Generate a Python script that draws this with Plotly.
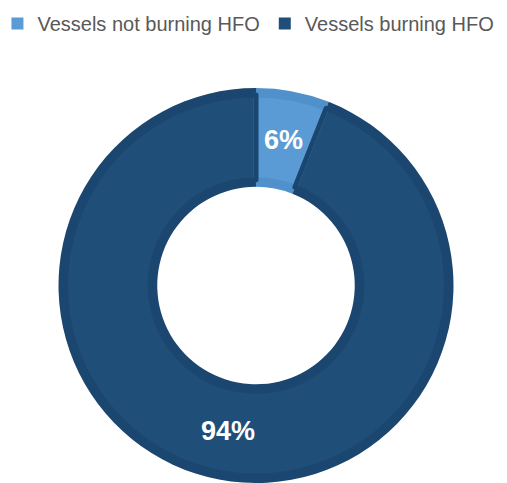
import math
import plotly.graph_objects as go

# Share of vessels by fuel type
categories = ["Vessels not burning HFO", "Vessels burning HFO"]
shares = [6, 94]

face_colors = ["#5B9BD5", "#1F4E79"]
edge_colors = ["#5090CB", "#1B4670"]

W, H = 507, 483
cx, cy_from_bottom = 256, 197.5
R = 197.5
inset = 7
hole_ratio = 0.5

def domain(radius):
    return dict(
        x=[(cx - radius) / W, (cx + radius) / W],
        y=[max(0, (cy_from_bottom - radius) / H), (cy_from_bottom + radius) / H],
    )

common = dict(labels=categories, values=shares, sort=False,
              direction="clockwise", rotation=0, hoverinfo="skip")

fig = go.Figure()

# Darker rim layer underneath gives the bevelled edge
fig.add_trace(go.Pie(
    **common,
    hole=hole_ratio,
    domain=domain(R),
    marker=dict(colors=edge_colors, line=dict(width=0)),
    textinfo="none",
    showlegend=False,
))

# Main face of the donut, slightly inset
r_in = R - inset
inner_hole = (R * hole_ratio + inset) / r_in
fig.add_trace(go.Pie(
    **common,
    hole=inner_hole,
    domain=domain(r_in),
    marker=dict(colors=face_colors, line=dict(width=0)),
    textinfo="none",
    showlegend=True,
))

# Thin darker seams along the slice edges
fig.add_trace(go.Pie(
    **common,
    hole=inner_hole,
    domain=domain(r_in),
    marker=dict(colors=["rgba(0,0,0,0)"] * len(shares),
                line=dict(color=edge_colors, width=5)),
    textinfo="none",
    showlegend=False,
))

# Percentage labels at the middle of each slice's ring
total = sum(shares)
r_mid = R * (1 + hole_ratio) / 2
cum = 0
annotations = []
for v in shares:
    mid = (cum + v / 2) / total * 2 * math.pi
    cum += v
    x_px = cx + r_mid * math.sin(mid)
    y_px = cy_from_bottom + r_mid * math.cos(mid)
    annotations.append(dict(
        x=x_px / W, y=y_px / H, xref="paper", yref="paper",
        xanchor="center", yanchor="middle",
        text=f"{v}%", showarrow=False,
        font=dict(family="Liberation Sans, Arial, sans-serif", size=27,
                  color="white", weight="bold"),
    ))

fig.update_layout(
    width=W,
    height=H,
    margin=dict(l=0, r=0, t=0, b=0, autoexpand=False),
    paper_bgcolor="white",
    plot_bgcolor="white",
    annotations=annotations,
    legend=dict(
        orientation="h",
        x=0.49,
        xanchor="center",
        y=1 - 4 / H,
        yanchor="top",
        font=dict(family="Liberation Sans, Arial, sans-serif", size=20, color="#595959"),
        itemwidth=30,
        traceorder="normal",
    ),
)

fig.write_html("out.html")
